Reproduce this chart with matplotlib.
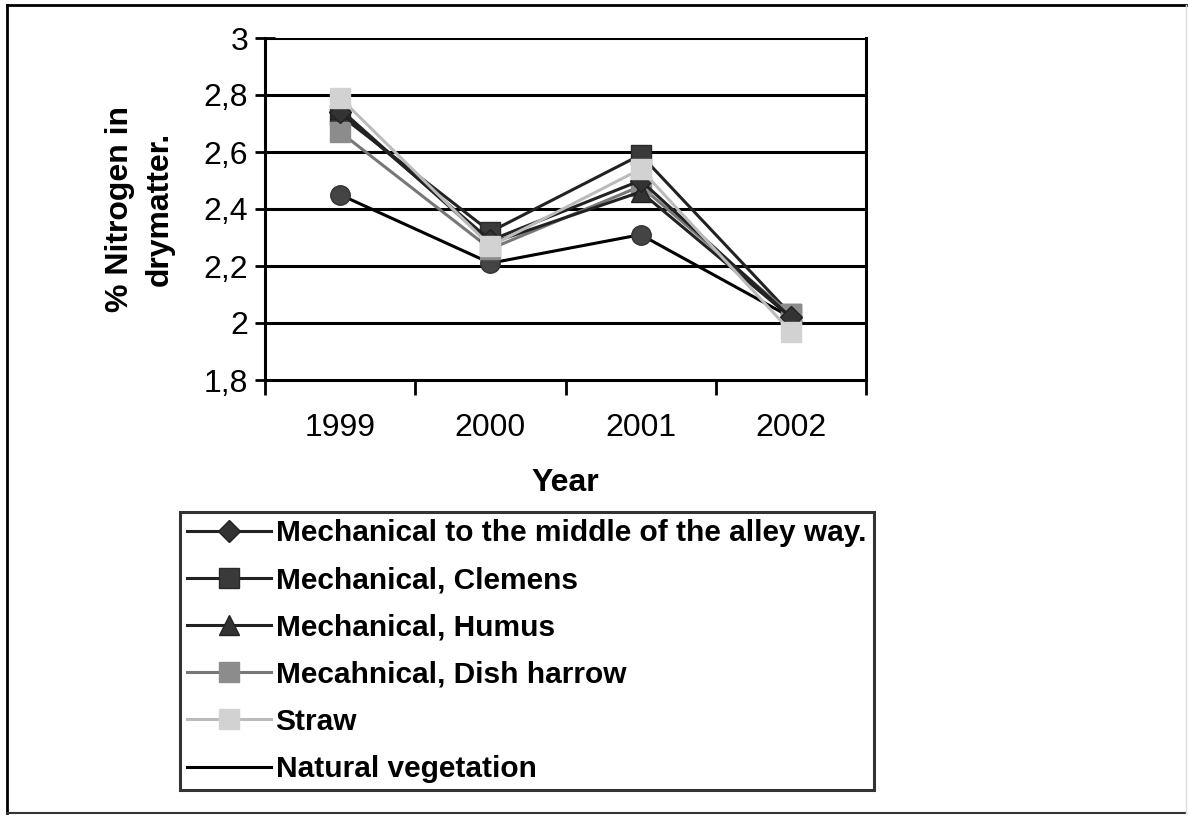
import matplotlib
matplotlib.use("Agg")
import matplotlib.pyplot as plt
from matplotlib.lines import Line2D
import numpy as np

plt.rcParams['font.family'] = ['Liberation Sans', 'DejaVu Sans']

years = ['1999', '2000', '2001', '2002']
mech_middle = [2.74, 2.29, 2.50, 2.02]
mech_clemens = [2.73, 2.32, 2.59, 2.03]
mech_humus = [2.75, 2.28, 2.46, 2.02]
mech_dish = [2.67, 2.26, 2.48, 2.03]
straw = [2.79, 2.27, 2.54, 1.97]
natural = [2.45, 2.21, 2.31, 2.02]

labels = ['Mechanical to the middle of the alley way.',
          'Mechanical, Clemens',
          'Mechanical, Humus',
          'Mecahnical, Dish harrow',
          'Straw',
          'Natural vegetation']
yticks = [1.8, 2.0, 2.2, 2.4, 2.6, 2.8, 3.0]
ytick_labels = ['1,8', '2', '2,2', '2,4', '2,6', '2,8', '3']

W, H = 1188, 816
fig = plt.figure(figsize=(W / 100, H / 100), dpi=100)
fig.patch.set_facecolor('white')

# outer frame
fig.add_artist(Line2D([7 / W, 7 / W], [1 - 5 / H, 1 - 813 / H], color='black', lw=2, transform=fig.transFigure))
fig.add_artist(Line2D([7 / W, 1186 / W], [1 - 5 / H, 1 - 5 / H], color='black', lw=2, transform=fig.transFigure))
fig.add_artist(Line2D([7 / W, 1186 / W], [1 - 813 / H, 1 - 813 / H], color='#333333', lw=1.5, transform=fig.transFigure))
fig.add_artist(Line2D([1186 / W, 1186 / W], [1 - 5 / H, 1 - 813 / H], color='#dddddd', lw=1, transform=fig.transFigure))

left, right, top, bottom = 265, 866, 38, 380
ax = fig.add_axes([left / W, 1 - bottom / H, (right - left) / W, (bottom - top) / H])
x = np.arange(len(years))

ax.set_xlim(-0.5, len(years) - 0.5)
ax.set_ylim(1.8, 3.0)
for yv in yticks[1:]:
    ax.axhline(yv, color='black', lw=2.2, zorder=1)

ax.plot(x, natural, color='black', lw=2.2, marker='o', ms=14, mfc='#444444', mec='#333333', zorder=3)
ax.plot(x, mech_dish, color='#777777', lw=2.2, marker='s', ms=15, mfc='#8c8c8c', mec='#8c8c8c', zorder=3)
ax.plot(x, mech_humus, color='#222222', lw=2.2, marker='^', ms=14, mfc='#333333', mec='#222222', zorder=3)
ax.plot(x, mech_middle, color='#222222', lw=2.2, marker='D', ms=11, mfc='#333333', mec='#222222', zorder=3)
ax.plot(x, straw, color='#bbbbbb', lw=2.2, marker='s', ms=15, mfc='#d2d2d2', mec='#d2d2d2', zorder=4)
ax.plot(x, mech_clemens, color='#222222', lw=2.2, marker='s', ms=14, mfc='#3a3a3a', mec='#2a2a2a', zorder=2.5)

ax.spines['top'].set_visible(False)
for s in ['left', 'right', 'bottom']:
    ax.spines[s].set_linewidth(2.2)
    ax.spines[s].set_color('black')

ax.set_yticks(yticks)
ax.set_yticklabels(ytick_labels, fontsize=23)
ax.tick_params(axis='y', direction='inout', length=14, width=2, pad=5)

ax.set_xticks(x)
ax.set_xticklabels(years, fontsize=23)
ax.set_xticks(np.arange(-0.5, len(years), 1.0), minor=True)
ax.tick_params(axis='x', which='major', length=0, pad=24)
ax.tick_params(axis='x', which='minor', direction='out', length=11, width=2)
ax.set_xlabel('Year', fontsize=23, fontweight='bold', labelpad=18)

fig.text(140 / W, 1 - 209 / H, '% Nitrogen in\ndrymatter.', rotation=90, ha='center', va='center',
         multialignment='center', fontsize=23, fontweight='bold', linespacing=1.45)

handles = [
    Line2D([], [], color='#222222', lw=2.2, marker='D', ms=11, mfc='#333333', mec='#222222'),
    Line2D([], [], color='#222222', lw=2.2, marker='s', ms=14, mfc='#3a3a3a', mec='#2a2a2a'),
    Line2D([], [], color='#222222', lw=2.2, marker='^', ms=14, mfc='#333333', mec='#222222'),
    Line2D([], [], color='#777777', lw=2.2, marker='s', ms=15, mfc='#8c8c8c', mec='#8c8c8c'),
    Line2D([], [], color='#bbbbbb', lw=2.2, marker='s', ms=15, mfc='#d2d2d2', mec='#d2d2d2'),
    Line2D([], [], color='black', lw=2.2),
]
leg = fig.legend(handles, labels, loc='upper left', bbox_to_anchor=(180 / W, 1 - 512 / H),
                 prop={'size': 21.5, 'weight': 'bold'}, frameon=True, fancybox=False,
                 edgecolor='black', borderaxespad=0, borderpad=0.25, labelspacing=0.64,
                 handlelength=2.8, handletextpad=0.15, numpoints=1)
leg.get_frame().set_linewidth(2.2)

fig.savefig('out.png', dpi=100, facecolor='white')
